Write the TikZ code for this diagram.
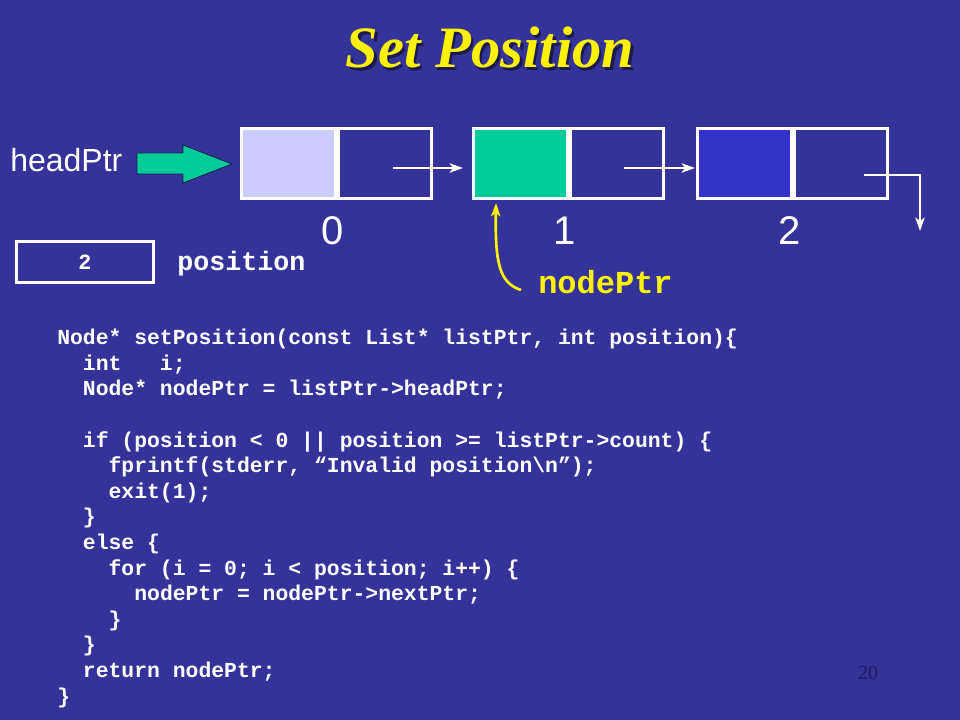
\documentclass[tikz,border=0pt]{standalone}
\usepackage{fontspec}
\setmainfont{Liberation Serif}
\setsansfont{Liberation Sans}
\setmonofont{Liberation Mono}
\usetikzlibrary{
  arrows.meta,
  positioning
}
\definecolor{slide}{HTML}{333399}
\definecolor{lavender}{HTML}{CCCCFF}
\definecolor{teal}{HTML}{00CC99}
\definecolor{royal}{HTML}{3333CC}
\definecolor{shade}{HTML}{1A1A4D}
\definecolor{pagenum}{HTML}{1C1C5E}

\begin{document}
\begin{tikzpicture}[x=0.75pt, y=-0.75pt,
  cell/.style={draw=white, line width=2.25pt, minimum width=70pt,
               minimum height=52.5pt, inner sep=0pt},
  link/.style={white, line width=2pt, -{Stealth[length=10pt, width=7pt, inset=2.5pt]}},
  index/.style={text=white, font=\sffamily\fontsize{30}{30}\selectfont, inner sep=0pt},
  code/.style={text=white, font=\ttfamily\bfseries\fontsize{16.05}{19.2}\selectfont, inner sep=0pt}]
  \def\Yrow{164};
  \def\Ylink{168};
  \def\Yidx{231};
         \fill[slide] (0,0) rectangle (960,720);
         \useasboundingbox (0,0) rectangle (960,720);

         \node[text=shade, font=\bfseries\itshape\fontsize{44}{44}\selectfont, anchor=base]
              (titleshadow) at (492.5,70.5) {Set Position};
         \node[text=yellow, font=\bfseries\itshape\fontsize{44}{44}\selectfont, anchor=base]
              (title) at (490,68) {Set Position};

         \node[text=white, font=\sffamily\fontsize{24}{24}\selectfont, anchor=west, inner sep=0pt]
              (head) at (10,160) {headPtr};
         \draw[fill=teal, draw=shade, line width=0.6pt] (137,153) -- (183,153) -- (183,145)
              -- (232,164) -- (183,183) -- (183,174) -- (137,174) -- cycle;   % headPtr arrow

         \node[cell, fill=lavender] (d0) at (288.5,\Yrow) {};          % node 0
         \node[cell, right=0pt of d0] (n0) {};
         \node[cell, fill=teal] (d1) at (520.5,\Yrow) {};              % node 1
         \node[cell, right=0pt of d1] (n1) {};
         \node[cell, fill=royal] (d2) at (744.5,\Yrow) {};             % node 2
         \node[cell, right=0pt of d2] (n2) {};

         \node[index] (i0) at (333,\Yidx) {0};
         \node[index] (i1) at (565,\Yidx) {1};
         \node[index] (i2) at (790,\Yidx) {2};

        \coordinate (s0) at (393,\Ylink);
        \coordinate (s1) at (624,\Ylink);
        \coordinate (s2) at (864,175);
        \coordinate (bend) at (920,175);
        \coordinate (null) at (920,231);
	\draw[link, shorten >=7pt] (s0) -- (s0 -| d1.west);   % 0 -> 1
	\draw[link, shorten >=1pt] (s1) -- (s1 -| d2.west);   % 1 -> 2
	\draw[link] (s2) -- (bend) -- (null);                  % 2 -> NULL

         \node[draw=white, line width=2.25pt, minimum width=102.4pt, minimum height=30.75pt,
               inner sep=0pt, text=white, font=\ttfamily\bfseries\fontsize{16.3}{16.3}\selectfont]
              (pos) at (85,262) {2};
         \node[text=white, font=\ttfamily\bfseries\fontsize{20}{20}\selectfont, anchor=base west,
               inner sep=0pt] (poslabel) at (177,271) {position};

         \node[text=yellow, font=\ttfamily\bfseries\fontsize{24}{24}\selectfont, anchor=base west,
               inner sep=0pt] (nptr) at (538,293) {nodePtr};
        \coordinate (nfoot) at (521,290);
        \coordinate (ntip) at (496,203);
	\draw[yellow, line width=2pt, -{Stealth[length=10pt, width=7pt, inset=2.5pt]}]
	      (nfoot) .. controls (499,283) and (495,262) .. (ntip);   % nodePtr -> node 1

         \node[code, anchor=north west, align=left] (listing) at (57,329) {%
Node* setPosition(const List* listPtr, int position)\{\\
~~int~~~i;\\
~~Node* nodePtr = listPtr->headPtr;\\
~\\
~~if (position < 0 || position >= listPtr->count) \{\\
~~~~fprintf(stderr, “Invalid position\textbackslash n”);\\
~~~~exit(1);\\
~~\}\\
~~else \{\\
~~~~for (i = 0; i < position; i++) \{\\
~~~~~~nodePtr = nodePtr->nextPtr;\\
~~~~\}\\
~~\}\\
~~return nodePtr;\\
\}};

         \node[text=pagenum, font=\fontsize{15}{15}\selectfont, inner sep=0pt] (page) at (868,673) {20};
\end{tikzpicture}
\end{document}
